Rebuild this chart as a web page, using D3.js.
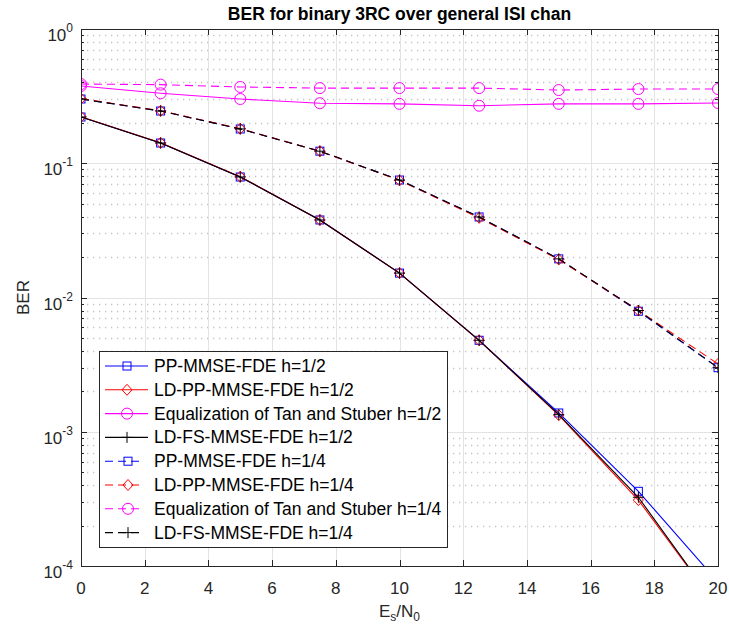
<!DOCTYPE html>
<html>
<head>
<meta charset="utf-8">
<script src="https://d3js.org/d3.v7.min.js"></script>
<style>
body { margin: 0; background: #fff; }
text { font-family: "Liberation Sans", Arial, Helvetica, sans-serif; }
</style>
</head>
<body>
<script>
// Es/N0 points
var snr = [0, 2.5, 5, 7.5, 10, 12.5, 15, 17.5, 20];

// h = 1/2 (solid)
var ppHalf    = [0.221, 0.1415, 0.079, 0.0378, 0.0152, 0.0048, 0.00138, 0.00036, 0.000076];
var ldppHalf  = [0.222, 0.142, 0.0795, 0.0378, 0.0152, 0.0048, 0.00133, 0.00031, 0.000049];
var tanHalf   = [0.376, 0.332, 0.301, 0.280, 0.277, 0.268, 0.277, 0.277, 0.281];
var ldfsHalf  = [0.221, 0.1415, 0.079, 0.0378, 0.0152, 0.0048, 0.00134, 0.000325, 0.000049];
// h = 1/4 (dashed)
var ppQuart   = [0.301, 0.245, 0.180, 0.123, 0.075, 0.0398, 0.0194, 0.0079, 0.0030];
var ldppQuart = [0.303, 0.246, 0.181, 0.123, 0.0745, 0.0392, 0.0192, 0.0080, 0.0032];
var tanQuart  = [0.389, 0.385, 0.370, 0.363, 0.363, 0.363, 0.351, 0.357, 0.357];
var ldfsQuart = [0.301, 0.245, 0.180, 0.123, 0.075, 0.0398, 0.0194, 0.0080, 0.0030];

var xTicks = [0, 2, 4, 6, 8, 10, 12, 14, 16, 18, 20];
var yDecades = [-4, -3, -2, -1, 0];

var series = [
  {name: "PP-MMSE-FDE h=1/2", v: ppHalf, color: "#0000ff", marker: "square", dash: null},
  {name: "LD-PP-MMSE-FDE h=1/2", v: ldppHalf, color: "#ff0000", marker: "diamond", dash: null},
  {name: "Equalization of Tan and Stuber h=1/2", v: tanHalf, color: "#ff00ff", marker: "circle", dash: null},
  {name: "LD-FS-MMSE-FDE h=1/2", v: ldfsHalf, color: "#000000", marker: "plus", dash: null},
  {name: "PP-MMSE-FDE h=1/4", v: ppQuart, color: "#0000ff", marker: "square", dash: "8,5"},
  {name: "LD-PP-MMSE-FDE h=1/4", v: ldppQuart, color: "#ff0000", marker: "diamond", dash: "8,5"},
  {name: "Equalization of Tan and Stuber h=1/4", v: tanQuart, color: "#ff00ff", marker: "circle", dash: "8,5"},
  {name: "LD-FS-MMSE-FDE h=1/4", v: ldfsQuart, color: "#000000", marker: "plus", dash: "8,5"}
];

var W = 729, H = 633;
var margin = {top: 29, right: 11, bottom: 67, left: 81};
var width = W - margin.left - margin.right,
    height = H - margin.top - margin.bottom;
var axisColor = "#262626";
var fs = 17;

var svg = d3.select("body").append("svg")
    .attr("width", W)
    .attr("height", H);

var g = svg.append("g")
    .attr("transform", "translate(" + margin.left + "," + margin.top + ")");

var x = d3.scaleLinear().domain([0, 20]).range([0, width]);
var y = d3.scaleLog().domain([1e-4, 1]).range([height, 0]);

// grid: minor (dotted, horizontal only)
var minor = [];
yDecades.slice(0, 4).forEach(function (e) {
  for (var k = 2; k <= 9; k++) minor.push(k * Math.pow(10, e));
});
g.append("g").selectAll("line").data(minor).enter().append("line")
    .attr("x1", 0).attr("x2", width)
    .attr("y1", function (d) { return Math.round(y(d)) + 0.5; })
    .attr("y2", function (d) { return Math.round(y(d)) + 0.5; })
    .attr("stroke", "#c4c4c4").attr("stroke-width", 1.3)
    .attr("stroke-dasharray", "1.3,4.7");

// grid: major
g.append("g").selectAll("line").data(xTicks.slice(1, -1)).enter().append("line")
    .attr("x1", function (d) { return Math.round(x(d)) + 0.5; })
    .attr("x2", function (d) { return Math.round(x(d)) + 0.5; })
    .attr("y1", 0).attr("y2", height)
    .attr("stroke", "#e3e3e3");
g.append("g").selectAll("line").data(yDecades.slice(1, -1)).enter().append("line")
    .attr("y1", function (d) { return Math.round(y(Math.pow(10, d))) + 0.5; })
    .attr("y2", function (d) { return Math.round(y(Math.pow(10, d))) + 0.5; })
    .attr("x1", 0).attr("x2", width)
    .attr("stroke", "#e3e3e3");

// curves
var clip = svg.append("defs").append("clipPath").attr("id", "clip");
clip.append("rect").attr("x", 0).attr("y", 0).attr("width", width).attr("height", height);

var plot = g.append("g").attr("clip-path", "url(#clip)");

var line = d3.line()
    .x(function (d, i) { return x(snr[i]); })
    .y(function (d) { return y(d); });

function drawMarker(sel, type, color, cx, cy) {
  if (type === "square") {
    sel.append("rect").attr("x", cx - 4).attr("y", cy - 4).attr("width", 8).attr("height", 8)
      .attr("fill", "none").attr("stroke", color);
  } else if (type === "diamond") {
    sel.append("path").attr("d", "M" + cx + "," + (cy - 5.5) + "L" + (cx + 5) + "," + cy + "L" + cx + "," + (cy + 5.5) + "L" + (cx - 5) + "," + cy + "Z")
      .attr("fill", "none").attr("stroke", color);
  } else if (type === "circle") {
    sel.append("circle").attr("cx", cx).attr("cy", cy).attr("r", 5.5)
      .attr("fill", "none").attr("stroke", color);
  } else {
    sel.append("path").attr("d", "M" + (cx - 5.5) + "," + cy + "H" + (cx + 5.5) + "M" + cx + "," + (cy - 5.5) + "V" + (cy + 5.5))
      .attr("fill", "none").attr("stroke", color);
  }
}

series.forEach(function (s) {
  plot.append("path")
    .datum(s.v)
    .attr("d", line)
    .attr("fill", "none")
    .attr("stroke", s.color)
    .attr("stroke-width", 1.1)
    .attr("stroke-dasharray", s.dash);
  var mg = plot.append("g");
  s.v.forEach(function (v, i) {
    if (v < 1e-4) return;
    drawMarker(mg, s.marker, s.color, x(snr[i]), y(v));
  });
});

// axes box
g.append("rect").attr("x", 0.5).attr("y", 0.5).attr("width", width).attr("height", height)
    .attr("fill", "none").attr("stroke", axisColor).attr("stroke-width", 1);

// tick marks
var tk = g.append("g").attr("stroke", axisColor);
xTicks.forEach(function (t) {
  var px = Math.round(x(t)) + 0.5;
  tk.append("line").attr("x1", px).attr("x2", px).attr("y1", height).attr("y2", height - 6);
  tk.append("line").attr("x1", px).attr("x2", px).attr("y1", 0).attr("y2", 6);
});
yDecades.forEach(function (e) {
  var py = Math.round(y(Math.pow(10, e))) + 0.5;
  tk.append("line").attr("x1", 0).attr("x2", 6).attr("y1", py).attr("y2", py);
  tk.append("line").attr("x1", width).attr("x2", width - 6).attr("y1", py).attr("y2", py);
});
minor.forEach(function (m) {
  var py = Math.round(y(m)) + 0.5;
  tk.append("line").attr("x1", 0).attr("x2", 3).attr("y1", py).attr("y2", py);
  tk.append("line").attr("x1", width).attr("x2", width - 3).attr("y1", py).attr("y2", py);
});

// tick labels
g.append("g").selectAll("text").data(xTicks).enter().append("text")
    .attr("x", function (d) { return x(d); })
    .attr("y", height + 28)
    .attr("text-anchor", "middle")
    .attr("font-size", fs)
    .attr("fill", axisColor)
    .text(function (d) { return d; });

var yl = g.append("g").selectAll("text").data(yDecades).enter().append("text")
    .attr("x", -8)
    .attr("y", function (d) { return y(Math.pow(10, d)) + 12; })
    .attr("text-anchor", "end")
    .attr("font-size", fs)
    .attr("fill", axisColor);
yl.append("tspan").text("10");
yl.append("tspan").attr("dy", -9).attr("font-size", 12).text(function (d) { return d === 0 ? "0" : "-" + (-d); });

// axis labels
var xl = svg.append("text")
    .attr("x", margin.left + width / 2)
    .attr("y", 617)
    .attr("text-anchor", "middle")
    .attr("font-size", fs)
    .attr("fill", axisColor);
xl.append("tspan").text("E");
xl.append("tspan").attr("dy", 4).attr("font-size", 12).text("s");
xl.append("tspan").attr("dy", -4).text("/N");
xl.append("tspan").attr("dy", 4).attr("font-size", 12).text("0");

svg.append("text")
    .attr("transform", "translate(29," + (margin.top + height / 2) + ") rotate(-90)")
    .attr("text-anchor", "middle")
    .attr("font-size", fs)
    .attr("fill", axisColor)
    .text("BER");

svg.append("text")
    .attr("x", margin.left + width / 2)
    .attr("y", 20)
    .attr("text-anchor", "middle")
    .attr("font-size", 17.5)
    .attr("font-weight", "bold")
    .attr("fill", "#000")
    .text("BER for binary 3RC over general ISI chan");

// legend
var lg = svg.append("g").attr("transform", "translate(99,351)");
lg.append("rect").attr("x", 0.5).attr("y", 0.5).attr("width", 348).attr("height", 196)
    .attr("fill", "#fff").attr("stroke", axisColor);
series.forEach(function (s, i) {
  var ry = 15 + i * 23.8;
  var x0 = 6, x1 = s.dash ? 44 : 49;
  var mx = s.dash ? 29 : 28;
  lg.append("line").attr("x1", x0).attr("x2", x1).attr("y1", ry).attr("y2", ry)
    .attr("stroke", s.color).attr("stroke-width", 1.1)
    .attr("stroke-dasharray", s.dash ? "8,5" : null);
  drawMarker(lg, s.marker, s.color, mx, ry);
  lg.append("text").attr("x", 55).attr("y", ry + 6)
    .attr("font-size", 17.5).attr("fill", "#000")
    .text(s.name);
});
</script>
</body>
</html>
